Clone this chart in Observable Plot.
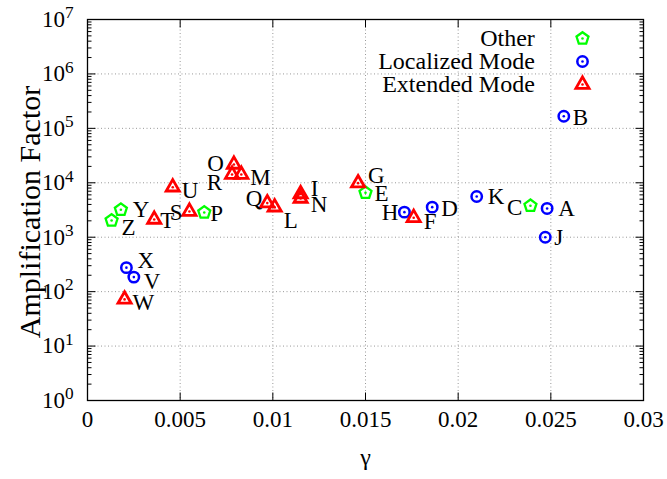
<!DOCTYPE html>
<html><head><meta charset="utf-8">
<script src="https://cdn.jsdelivr.net/npm/d3@7"></script>
<script src="https://cdn.jsdelivr.net/npm/@observablehq/plot@0.6"></script>
<style>
html,body{margin:0;padding:0;background:#fff;}
#chart svg{display:block;}
</style></head><body><div id="chart"></div>
<script>
// ---- data ----
const names = ["A","B","C","D","E","F","G","H","I","J","K","L","M","N","O","P","Q","R","S","T","U","V","W","X","Y","Z"];
const gamma = [0.0248,0.0257,0.0239,0.0186,0.0150,0.0176,0.0146,0.0171,0.0115,0.0247,0.0210,0.0101,0.0083,0.0115,0.0079,0.0063,0.0097,0.0078,0.0055,0.0036,0.0046,0.0025,0.0020,0.0021,0.0018,0.0013];
const amplification = [3380,167000,3780,3570,6550,2280,9840,2890,6230,1000,5610,3560,14200,5150,21700,2850,4230,14200,2970,2120,8300,185,72,276,3200,2030];
const mode = ["Localized Mode","Localized Mode","Other","Localized Mode","Other","Extended Mode","Extended Mode","Localized Mode","Extended Mode","Localized Mode","Localized Mode","Extended Mode","Extended Mode","Extended Mode","Extended Mode","Other","Extended Mode","Extended Mode","Extended Mode","Extended Mode","Extended Mode","Localized Mode","Extended Mode","Localized Mode","Other","Other"];
const seriesNames = ["Other","Localized Mode","Extended Mode"];
const xTicks = [0,0.005,0.01,0.015,0.02,0.025,0.03];
const xTickLabels = ["0","0.005","0.01","0.015","0.02","0.025","0.03"];
const yTicks = [1,10,100,1000,10000,100000,1000000,10000000];
const yTickExponents = ["0","1","2","3","4","5","6","7"];
const xTitle = "γ";
const yTitle = "Amplification Factor";

// ---- styling / layout (not data) ----
const seriesColors = {"Other":"#00ff00","Localized Mode":"#0000ff","Extended Mode":"#ff0000"};
const labelPlacement = { // dx, dy, anchor (pixels from point)
  A:[11,0,"start"],B:[9,1,"start"],C:[-8,2,"end"],D:[9,1,"start"],E:[9,1,"start"],F:[10,4,"start"],
  G:[10,-8,"start"],H:[-6,0,"end"],I:[10,-5,"start"],J:[9,0,"start"],K:[11,0,"start"],L:[9,13,"start"],
  M:[9,3,"start"],N:[10,6,"start"],O:[-10,-1,"end"],P:[6,1,"start"],Q:[-5,-4,"end"],R:[-10,8,"end"],
  S:[-7,1,"end"],T:[6,1,"start"],U:[9,3,"start"],V:[10,5,"start"],W:[8,3,"start"],X:[11,-7,"start"],
  Y:[12,0,"start"],Z:[10,7,"start"]
};
const FONT = "Liberation Serif";
const FS = 23;

const points = names.map((n, i) => ({name: n, gamma: gamma[i], amp: amplification[i], mode: mode[i]}));

const pentagon = {draw(ctx, size) {
  const r = Math.sqrt(size / Math.PI);
  for (let i = 0; i < 5; i++) {
    const a = -Math.PI / 2 + i * 2 * Math.PI / 5;
    const x = r * Math.cos(a), y = r * Math.sin(a);
    if (i) ctx.lineTo(x, y); else ctx.moveTo(x, y);
  }
  ctx.closePath();
}};
const triangle = {draw(ctx, size) {
  const r = Math.sqrt(size / Math.PI);
  for (let i = 0; i < 3; i++) {
    const a = -Math.PI / 2 + i * 2 * Math.PI / 3;
    const x = r * Math.cos(a), y = r * Math.sin(a);
    if (i) ctx.lineTo(x, y); else ctx.moveTo(x, y);
  }
  ctx.closePath();
}};
const seriesSymbol = {"Other": pentagon, "Localized Mode": "circle", "Extended Mode": triangle};
const seriesR = {"Other": 6.3, "Localized Mode": 5.2, "Extended Mode": 7.6};
const seriesSW = {"Other": 2.3, "Localized Mode": 2.5, "Extended Mode": 2.8};

const tickLine = (dx, dy) => ({draw(ctx) { ctx.moveTo(0, 0); ctx.lineTo(dx, dy); }});

const minorY = [];
for (let k = 0; k < 7; k++) for (let m = 2; m <= 9; m++) minorY.push(m * Math.pow(10, k));

const marks = [
  Plot.gridX(xTicks.slice(1, -1), {stroke: "#999", strokeOpacity: 1, strokeWidth: 1, strokeDasharray: "1,2.5"}),
  Plot.gridY(yTicks.slice(1, -1), {stroke: "#999", strokeOpacity: 1, strokeWidth: 1, strokeDasharray: "1,2.5"}),
  Plot.frame({stroke: "black", strokeWidth: 1.3}),
  // inward ticks
  Plot.dot(xTicks, {x: d => d, frameAnchor: "bottom", symbol: tickLine(0, -8), stroke: "black", strokeWidth: 1}),
  Plot.dot(xTicks, {x: d => d, frameAnchor: "top", symbol: tickLine(0, 8), stroke: "black", strokeWidth: 1}),
  Plot.dot(yTicks, {y: d => d, frameAnchor: "left", symbol: tickLine(8, 0), stroke: "black", strokeWidth: 1}),
  Plot.dot(yTicks, {y: d => d, frameAnchor: "right", symbol: tickLine(-8, 0), stroke: "black", strokeWidth: 1}),
  Plot.dot(minorY, {y: d => d, frameAnchor: "left", symbol: tickLine(4, 0), stroke: "black", strokeWidth: 1}),
  Plot.dot(minorY, {y: d => d, frameAnchor: "right", symbol: tickLine(-4, 0), stroke: "black", strokeWidth: 1}),
  Plot.axisX({ticks: xTicks, tickFormat: d => xTickLabels[xTicks.indexOf(d)], tickSize: 0, tickPadding: 10, label: null, fontSize: FS}),
  Plot.axisY({ticks: yTicks, tickFormat: d => "10^" + yTickExponents[yTicks.indexOf(d)], tickSize: 0, tickPadding: 14, label: null, fontSize: FS}),
  Plot.text([xTitle], {frameAnchor: "bottom", dy: 64, textAnchor: "middle", fontSize: 24}),
  Plot.text([yTitle], {frameAnchor: "left", dx: -57, dy: 2, rotate: -90, textAnchor: "middle", lineAnchor: "middle", fontSize: 30})
];

// points
for (const s of seriesNames) {
  const pts = points.filter(d => d.mode === s);
  marks.push(Plot.dot(pts, {x: "gamma", y: "amp", symbol: seriesSymbol[s], r: seriesR[s], stroke: seriesColors[s], strokeWidth: seriesSW[s], fill: "none"}));
  marks.push(Plot.dot(pts, {x: "gamma", y: "amp", r: 1.3, fill: seriesColors[s], stroke: "none"}));
}
// point labels
for (const d of points) {
  const [dx, dy, anchor] = labelPlacement[d.name];
  marks.push(Plot.text([d], {x: "gamma", y: "amp", text: "name", dx, dy, textAnchor: anchor, lineAnchor: "middle", fontSize: FS, fill: "black"}));
}
// legend
const legendRows = [19, 42, 65];
seriesNames.forEach((s, i) => {
  marks.push(Plot.text([s], {frameAnchor: "top-right", dx: -108.7, dy: legendRows[i], textAnchor: "end", lineAnchor: "middle", fontSize: 24}));
  marks.push(Plot.dot([s], {frameAnchor: "top-right", dx: -61, dy: legendRows[i], symbol: seriesSymbol[s], r: seriesR[s], stroke: seriesColors[s], strokeWidth: seriesSW[s], fill: "none"}));
  marks.push(Plot.dot([s], {frameAnchor: "top-right", dx: -61, dy: legendRows[i], r: 1.3, fill: seriesColors[s], stroke: "none"}));
});

const chart = Plot.plot({
  width: 667,
  height: 479,
  marginLeft: 87,
  marginRight: 24,
  marginTop: 19,
  marginBottom: 79,
  style: {fontFamily: FONT, fontSize: FS + "px", background: "#fff", color: "black", overflow: "visible"},
  x: {domain: [0, 0.03]},
  y: {type: "log", domain: [1, 1e7]},
  marks
});
document.getElementById("chart").appendChild(chart);

// superscript exponents for the y tick labels
chart.querySelectorAll('g[aria-label="y-axis tick label"] text').forEach(t => {
  const s = t.textContent;
  if (!s.includes("^")) return;
  const [base, exp] = s.split("^");
  t.textContent = base;
  const ts = document.createElementNS("http://www.w3.org/2000/svg", "tspan");
  ts.setAttribute("dy", "-0.5em");
  ts.setAttribute("font-size", "0.75em");
  ts.textContent = exp;
  t.appendChild(ts);
});
</script>
</body></html>
